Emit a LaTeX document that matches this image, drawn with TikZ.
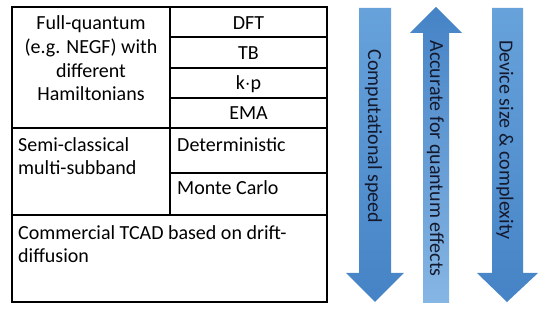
\documentclass[tikz,border=0pt]{standalone}
\usepackage{fontspec}
\setmainfont{Carlito}
\begin{document}
\begin{tikzpicture}[x=1pt,y=-1pt,
  grid/.style={line width=2pt,black},
  cell/.style={inner sep=0pt,font=\fontsize{20}{22.5}\selectfont,text=black},
  arrtxt/.style={inner sep=0pt,font=\fontsize{20}{22}\selectfont,text={rgb,255:red,20;green,25;blue,45},rotate=-90},
  downarrow/.style={top color=arrlight,bottom color=arrdark,draw=none},
  uparrow/.style={top color=arrdark,bottom color=arrpale,draw=none}]
\definecolor{arrlight}{HTML}{67A2DB}
\definecolor{arrdark}{HTML}{4583C6}
\definecolor{arrpale}{HTML}{86B6E4}
\useasboundingbox (0,0) rectangle (550,312);
% table grid
\draw[grid] (12,7.5) rectangle (327,302.5);
\draw[grid] (170,7.5) -- (170,215);
\draw[grid] (170,37.5) -- (327,37.5);
\draw[grid] (170,68.5) -- (327,68.5);
\draw[grid] (170,98.5) -- (327,98.5);
\draw[grid] (12,128.5) -- (327,128.5);
\draw[grid] (170,172.7) -- (327,172.7);
\draw[grid] (12,215) -- (327,215);
% texts (base anchor = baseline of the last line)
\node[cell,align=center,anchor=base,font=\fontsize{20}{23.9}\selectfont] (fq) at (91,101) {Full-quantum\\(e.g. NEGF) with\\different\\Hamiltonians};
\node[cell,anchor=base] (dft) at (248.5,29.3) {DFT};
\node[cell,anchor=base] (tb) at (248.5,60) {TB};
\node[cell,anchor=base] (kp) at (248.5,90) {k$\cdot$p};
\node[cell,anchor=base] (ema) at (248.5,120) {EMA};
\node[cell,align=left,anchor=base west] (sc) at (18,174.3) {Semi-classical\\multi-subband};
\node[cell,anchor=base west] (det) at (177,151.7) {Deterministic};
\node[cell,anchor=base west] (mc) at (177,194.3) {Monte Carlo};
\node[cell,align=left,anchor=base west,font=\fontsize{20}{22.3}\selectfont] (tcad) at (18,262.3) {Commercial TCAD based on drift-\\diffusion};
% arrows
\shade[downarrow] (359,8) -- (391,8) -- (391,273) -- (404,273) -- (375,302) -- (346,273) -- (359,273) -- cycle;
\shade[uparrow] (423,303) -- (449,303) -- (449,33) -- (462,33) -- (436,7) -- (410,33) -- (423,33) -- cycle;
\shade[downarrow] (492,8) -- (523,8) -- (523,273) -- (538,273) -- (507,302) -- (477,273) -- (492,273) -- cycle;
\node[arrtxt] (cs) at (373.5,136.5) {Computational speed};
\node[arrtxt] (aq) at (435.5,158.5) {Accurate for quantum effects};
\node[arrtxt] (ds) at (505,140) {Device size \& complexity};
\end{tikzpicture}
\end{document}
